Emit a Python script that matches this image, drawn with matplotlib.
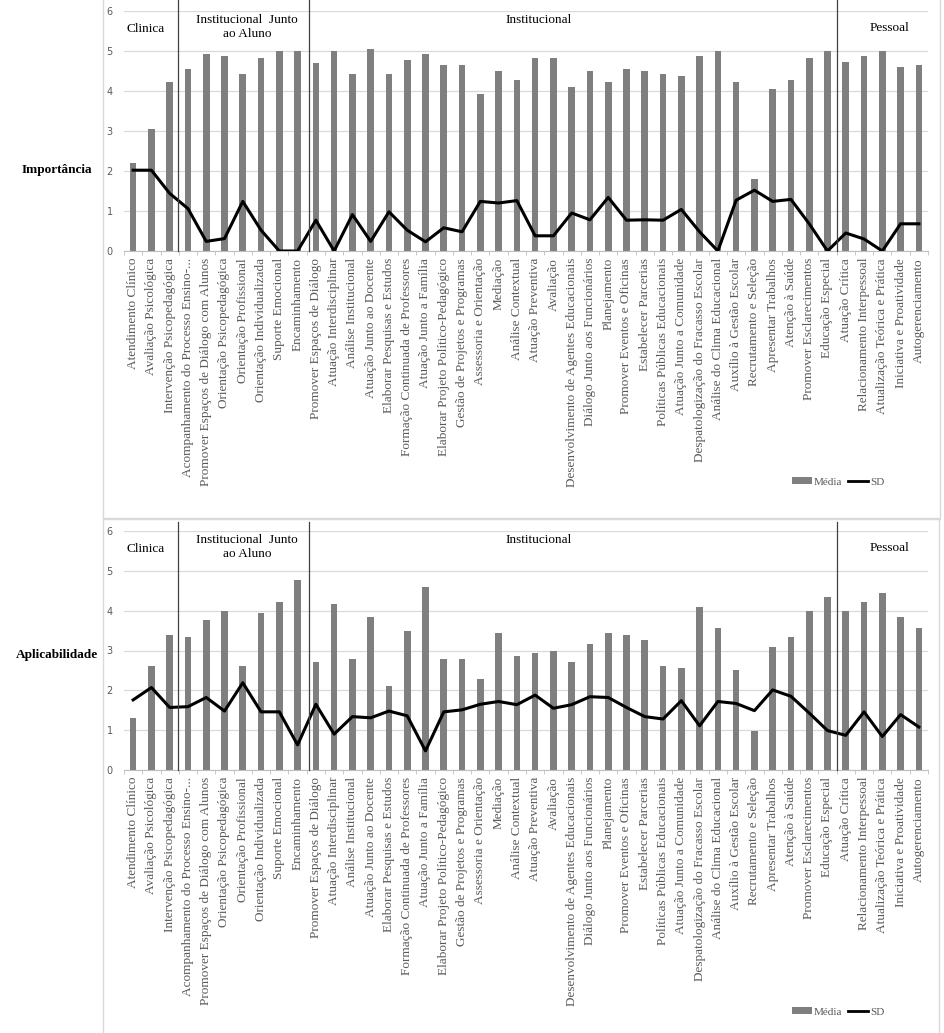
import numpy as np
import matplotlib.pyplot as plt
from matplotlib.patches import Rectangle
from matplotlib.lines import Line2D
from matplotlib.patches import Patch

W, H = 945, 1033

categories = [
    "Atendimento Clínico", "Avaliação Psicológica", "Intervenção Psicopedagógica",
    "Acompanhamento do Processo Ensino-...", "Promover Espaços de Diálogo com Alunos",
    "Orientação Psicopedagógica", "Orientação Profissional", "Orientação Individualizada",
    "Suporte Emocional", "Encaminhamento", "Promover Espaços de Diálogo",
    "Atuação Interdisciplinar", "Análise Institucional", "Atuação Junto ao Docente",
    "Elaborar Pesquisas e Estudos", "Formação Continuada de Professores",
    "Atuação Junto a Família", "Elaborar Projeto Político-Pedagógico",
    "Gestão de Projetos e Programas", "Assessoria e Orientação", "Mediação",
    "Análise Contextual", "Atuação Preventiva", "Avaliação",
    "Desenvolvimento de Agentes Educacionais", "Diálogo Junto aos Funcionários",
    "Planejamento", "Promover Eventos e Oficinas", "Estabelecer Parcerias",
    "Políticas Públicas Educacionais", "Atuação Junto a Comunidade",
    "Despatologização do Fracasso Escolar", "Análise do Clima Educacional",
    "Auxílio à Gestão Escolar", "Recrutamento e Seleção", "Apresentar Trabalhos",
    "Atenção à Saúde", "Promover Esclarecimentos", "Educação Especial",
    "Atuação Crítica", "Relacionamento Interpessoal", "Atualização Teórica e Prática",
    "Iniciativa e Proatividade", "Autogerenciamento",
]

imp_media = [2.20, 3.06, 4.22, 4.55, 4.92, 4.88, 4.42, 4.82, 5.00, 5.00,
             4.70, 5.00, 4.42, 5.05, 4.42, 4.77, 4.92, 4.66, 4.66, 3.92,
             4.49, 4.27, 4.82, 4.82, 4.09, 4.49, 4.22, 4.55, 4.49, 4.42,
             4.38, 4.88, 5.00, 4.22, 1.80, 4.05, 4.28, 4.82, 5.00, 4.72,
             4.88, 5.00, 4.59, 4.66]
imp_sd = [2.02, 2.02, 1.44, 1.06, 0.24, 0.31, 1.24, 0.52, 0.00, 0.00,
          0.77, 0.00, 0.91, 0.24, 0.98, 0.52, 0.23, 0.58, 0.48, 1.24,
          1.20, 1.26, 0.38, 0.38, 0.95, 0.78, 1.34, 0.77, 0.78, 0.77,
          1.04, 0.48, 0.00, 1.27, 1.52, 1.24, 1.29, 0.68, 0.00, 0.45,
          0.30, 0.00, 0.68, 0.68]

apl_media = [1.30, 2.60, 3.40, 3.33, 3.77, 4.00, 2.60, 3.93, 4.22, 4.78,
             2.70, 4.17, 2.78, 3.83, 2.10, 3.50, 4.60, 2.78, 2.78, 2.28,
             3.44, 2.87, 2.93, 3.00, 2.71, 3.17, 3.44, 3.39, 3.27, 2.60,
             2.55, 4.10, 3.56, 2.50, 0.97, 3.10, 3.35, 3.99, 4.34, 3.99,
             4.23, 4.44, 3.83, 3.56]
apl_sd = [1.76, 2.07, 1.57, 1.59, 1.82, 1.48, 2.19, 1.46, 1.46, 0.63,
          1.65, 0.90, 1.34, 1.31, 1.48, 1.36, 0.48, 1.46, 1.51, 1.65,
          1.72, 1.64, 1.88, 1.55, 1.64, 1.84, 1.82, 1.57, 1.34, 1.28,
          1.74, 1.11, 1.72, 1.67, 1.49, 2.01, 1.85, 1.43, 0.99, 0.87,
          1.46, 0.84, 1.39, 1.08]

groups = ["Clinica", "Institucional  Junto\nao Aluno", "Institucional", "Pessoal"]
row_titles = ["Importância", "Aplicabilidade"]

SERIF = "Liberation Serif"
GRAY_BAR = "#7f7f7f"
TXT = "#595959"

fig = plt.figure(figsize=(W / 100, H / 100), dpi=100)


def fx(px):
    return px / W


def fy(py):
    return 1 - py / H


# chart area borders
for (x0, y0, x1, y1) in [(103, -2, 940, 519), (103, 518, 939, 1040)]:
    fig.patches.append(Rectangle((fx(x0), fy(y1)), fx(x1 - x0), (y1 - y0) / H,
                                 transform=fig.transFigure, fill=False,
                                 edgecolor="#d9d9d9", linewidth=1.0))


def draw_panel(zero_py, top_py, media, sd, title, title_py, legend_py, line_top):
    ax = fig.add_axes([fx(124), fy(zero_py), fx(928 - 124), (zero_py - top_py) / H])
    x = np.arange(len(categories))
    ax.bar(x, media, width=0.36, color=GRAY_BAR, zorder=2)
    ax.plot(x, sd, color="black", linewidth=2.2, zorder=3)
    ax.set_xlim(-0.5, len(categories) - 0.5)
    ax.set_ylim(0, 6)
    ax.set_yticks(range(7))
    ax.yaxis.grid(True, color="#d9d9d9", linewidth=0.9, zorder=0)
    for s in ["top", "right", "left"]:
        ax.spines[s].set_visible(False)
    ax.spines["bottom"].set_color("#bfbfbf")
    ax.tick_params(axis="y", length=0, labelsize=7, labelcolor=TXT, pad=8)
    ax.set_xticks(x)
    ax.set_xticklabels(categories, rotation=90, fontfamily=SERIF,
                       fontsize=9.5, color=TXT)
    ax.tick_params(axis="x", length=0, pad=5)
    # category separator ticks
    ax.set_xticks(np.arange(len(categories) + 1) - 0.5, minor=True)
    ax.tick_params(axis="x", which="minor", length=3, color="#bfbfbf")

    # group separators
    for xs in [2.46, 9.63, 38.51]:
        ax.plot([xs, xs], [0, line_top], color="#404040", linewidth=0.9,
                clip_on=False, zorder=4)

    tkw = dict(fontfamily=SERIF, fontsize=9.5, color="black", ha="center",
               va="center", zorder=5)
    ax.text(0.66, 5.55, groups[0], **tkw)
    ax.text(6.24, 5.6, groups[1], linespacing=1.2, **tkw)
    ax.text(22.2, 5.78, groups[2], **tkw)
    ax.text(41.4, 5.58, groups[3], **tkw)

    fig.text(fx(57), fy(title_py), title, fontfamily=SERIF, fontsize=9.5,
             fontweight="bold", ha="center", va="center")

    handles = [Patch(facecolor=GRAY_BAR, edgecolor="none"),
               Line2D([0], [0], color="black", linewidth=2)]
    fig.legend(handles, ["Média", "SD"], loc="center",
               bbox_to_anchor=(fx(838), fy(legend_py)), ncol=2, frameon=False,
               prop={"family": SERIF, "size": 8}, handlelength=1.8,
               handleheight=0.5, handletextpad=0.2, columnspacing=0.5,
               labelcolor=TXT)
    return ax


draw_panel(251, 11, imp_media, imp_sd, row_titles[0], 170, 482, 6.3)
draw_panel(770, 531, apl_media, apl_sd, row_titles[1], 655, 1012, 6.22)

fig.savefig("out.png", dpi=100, facecolor="white")
